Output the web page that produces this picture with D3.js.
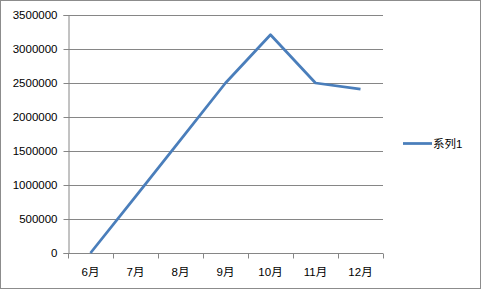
<!DOCTYPE html>
<html>
<head>
<meta charset="utf-8">
<script src="https://cdn.jsdelivr.net/npm/d3@7"></script>
<style>
  body { margin: 0; background: #fff; }
  svg text { font-family: "Liberation Sans", "Noto Sans CJK SC", sans-serif; font-size: 11.5px; fill: #000; }
</style>
</head>
<body>
<div id="chart"></div>
<script>
const months = ['6月', '7月', '8月', '9月', '10月', '11月', '12月'];
const values = [0, 830000, 1665000, 2500000, 3210000, 2500000, 2410000];
const seriesName = '系列1';
const yTicks = [0, 500000, 1000000, 1500000, 2000000, 2500000, 3000000, 3500000];

const W = 481, H = 289;
const margin = { top: 15, right: 98, bottom: 36, left: 68 };
const width = W - margin.left - margin.right;
const height = H - margin.top - margin.bottom;

const root = d3.select('#chart').append('svg')
  .attr('width', W).attr('height', H);

// outer chart border
root.append('rect')
  .attr('x', 0.5).attr('y', 0.5)
  .attr('width', W - 1).attr('height', H - 1)
  .attr('fill', '#fff').attr('stroke', '#8c8c8c');

const svg = root.append('g')
  .attr('transform', `translate(${margin.left},${margin.top})`);

const x = d3.scaleBand().domain(months).range([0, width]);
const y = d3.scaleLinear().domain([0, 3500000]).range([height, 0]);

// gridlines
svg.append('g')
  .selectAll('line')
  .data(yTicks.filter(d => d > 0))
  .enter().append('line')
  .attr('x1', 0).attr('x2', width)
  .attr('y1', d => Math.round(y(d)) + 0.5)
  .attr('y2', d => Math.round(y(d)) + 0.5)
  .attr('stroke', '#868686');

// y axis
const yAxis = svg.append('g')
  .attr('transform', 'translate(0.5,0)')
  .call(d3.axisLeft(y).tickValues(yTicks).tickSize(5).tickPadding(6).tickFormat(d3.format('d')));
yAxis.select('.domain').attr('stroke', '#868686');
yAxis.selectAll('.tick line').attr('stroke', '#868686');
yAxis.selectAll('.tick').attr('transform', d => `translate(0,${Math.round(y(d)) + 0.5})`);

// x axis
const xAxis = svg.append('g')
  .attr('transform', `translate(0,${Math.round(height) + 0.5})`);
xAxis.append('line')
  .attr('x1', 0).attr('x2', width)
  .attr('stroke', '#868686');
xAxis.selectAll('line.tk')
  .data(d3.range(months.length + 1))
  .enter().append('line')
  .attr('class', 'tk')
  .attr('x1', i => Math.round(i * x.step()) + 0.5)
  .attr('x2', i => Math.round(i * x.step()) + 0.5)
  .attr('y1', 0).attr('y2', 5)
  .attr('stroke', '#868686');
xAxis.selectAll('text')
  .data(months)
  .enter().append('text')
  .attr('x', d => x(d) + x.bandwidth() / 2)
  .attr('y', 22)
  .attr('text-anchor', 'middle')
  .text(d => d);

// series line
const line = d3.line()
  .x((d, i) => x(months[i]) + x.bandwidth() / 2)
  .y(d => y(d));

svg.append('path')
  .datum(values)
  .attr('fill', 'none')
  .attr('stroke', '#4a7ebb')
  .attr('stroke-width', 2.75)
  .attr('stroke-linejoin', 'round')
  .attr('d', line);

// legend
const legend = root.append('g').attr('transform', 'translate(403,143.5)');
legend.append('line')
  .attr('x1', 0).attr('x2', 29)
  .attr('stroke', '#4a7ebb').attr('stroke-width', 2.75);
legend.append('text')
  .attr('x', 30).attr('y', 4)
  .text(seriesName);
</script>
</body>
</html>
